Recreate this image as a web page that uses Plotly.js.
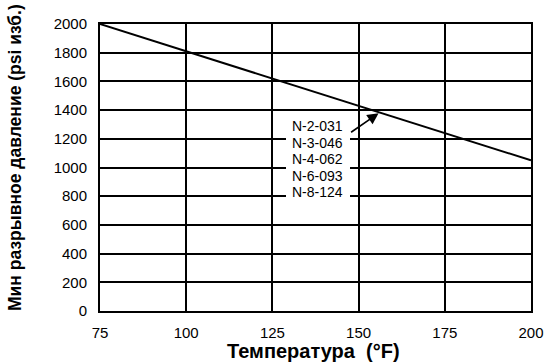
<!DOCTYPE html>
<html><head><meta charset="utf-8">
<script src="https://cdn.plot.ly/plotly-3.0.1.min.js"></script>
<style>html,body{margin:0;padding:0;background:#fff}#c{width:554px;height:363px}</style>
</head><body><div id="c"></div>
<script>
var temps = [75, 100, 125, 150, 175, 200];
var pressure = [2000, 1810, 1620, 1430, 1240, 1050];
var partNumbers = ["N-2-031", "N-3-046", "N-4-062", "N-6-093", "N-8-124"];
var xTicks = [75, 100, 125, 150, 175, 200];
var yTicks = [0, 200, 400, 600, 800, 1000, 1200, 1400, 1600, 1800, 2000];
var xTitle = "Температура\u00a0\u00a0(°F)";
var yTitle = "Мин разрывное давление (psi изб.)";

var font = "Liberation Sans, Arial, Helvetica, sans-serif";

// plot area in pixels: x 100..531, y 24..311
function px2paperX(p) { return (p - 100) / 431; }
function px2paperY(p) { return (311 - p) / 287; }

var annotations = partNumbers.map(function (t, i) {
  return {x: px2paperX(317), y: px2paperY(126 + i * 16.5), xref: 'paper', yref: 'paper',
    text: t, showarrow: false, xanchor: 'center', yanchor: 'middle',
    font: {family: font, size: 14, color: '#000'}};
});
annotations.push({x: 155.8, y: 1378, xref: 'x', yref: 'y', text: '', showarrow: true,
  ax: -29, ay: 20, arrowhead: 2, arrowsize: 1.4, arrowwidth: 1.6, arrowcolor: '#000'});
annotations.push({x: px2paperX(313), y: px2paperY(351), xref: 'paper', yref: 'paper',
  text: xTitle, showarrow: false, xanchor: 'center', yanchor: 'middle',
  font: {family: font, size: 20, color: '#000', weight: 'bold'}});
annotations.push({x: px2paperX(15), y: px2paperY(158), xref: 'paper', yref: 'paper',
  text: yTitle, showarrow: false, textangle: -90, xanchor: 'center', yanchor: 'middle',
  font: {family: font, size: 17.5, color: '#000', weight: 'bold'}});

Plotly.newPlot('c', [{
  x: temps, y: pressure, type: 'scatter', mode: 'lines',
  line: {color: '#000', width: 2}, hoverinfo: 'skip'
}], {
  width: 554, height: 363,
  margin: {l: 100, r: 23, t: 24, b: 52},
  paper_bgcolor: '#fff', plot_bgcolor: '#fff',
  showlegend: false,
  font: {family: font, color: '#000', size: 15},
  xaxis: {
    range: [75, 200], tickvals: xTicks, ticktext: xTicks.map(String),
    showgrid: true, gridcolor: '#000', gridwidth: 2,
    showline: true, linecolor: '#000', linewidth: 2, mirror: true,
    zeroline: false, ticks: '', ticklen: 0, ticklabelstandoff: 7,
    tickfont: {family: font, size: 15, color: '#000'}
  },
  yaxis: {
    range: [0, 2000], tickvals: yTicks, ticktext: yTicks.map(String),
    showgrid: true, gridcolor: '#000', gridwidth: 2,
    showline: true, linecolor: '#000', linewidth: 2, mirror: true,
    zeroline: false, ticks: '', ticklen: 0, ticklabelstandoff: 8,
    tickfont: {family: font, size: 15, color: '#000'}
  },
  shapes: [{type: 'rect', xref: 'paper', yref: 'paper',
    x0: px2paperX(286), x1: px2paperX(350), y0: px2paperY(202), y1: px2paperY(117),
    fillcolor: '#fff', line: {width: 0}, layer: 'above'}],
  annotations: annotations
}, {staticPlot: true});
</script></body></html>
